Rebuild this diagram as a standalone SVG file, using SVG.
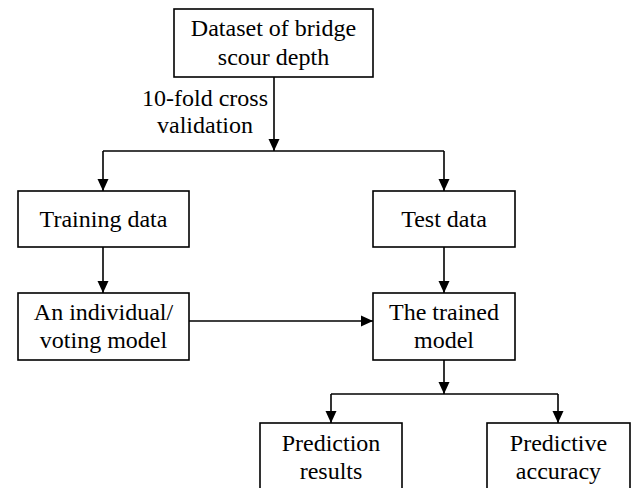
<svg xmlns="http://www.w3.org/2000/svg" width="633" height="488" viewBox="0 0 633 488">
<style>
.box{fill:#fff;stroke:#000;stroke-width:1.6}
.t{font-family:'Liberation Serif',Tinos,'Times New Roman','DejaVu Serif',serif;font-size:24px;fill:#000;text-anchor:middle}
.c{fill:none;stroke:#000;stroke-width:1.6}
</style>
<defs>
<marker id="ah" viewBox="0 0 12 12" refX="12" refY="6" markerWidth="12" markerHeight="12" markerUnits="userSpaceOnUse" orient="auto">
<path d="M0,0.5 L12,6 L0,11.5 z" fill="#000"/>
</marker>
</defs>
<rect width="633" height="488" fill="#fff"/>
<g id="connectors">
<line class="c" x1="274" y1="77" x2="274" y2="151" marker-end="url(#ah)"/>
<polyline class="c" points="103,151 444,151"/>
<line class="c" x1="103" y1="151" x2="103" y2="191" marker-end="url(#ah)"/>
<line class="c" x1="444" y1="151" x2="444" y2="191" marker-end="url(#ah)"/>
<line class="c" x1="103" y1="247" x2="103" y2="293" marker-end="url(#ah)"/>
<line class="c" x1="444" y1="247" x2="444" y2="293" marker-end="url(#ah)"/>
<line class="c" x1="189" y1="321" x2="373" y2="321" marker-end="url(#ah)"/>
<line class="c" x1="444" y1="360" x2="444" y2="394" marker-end="url(#ah)"/>
<polyline class="c" points="331,394 558,394"/>
<line class="c" x1="331" y1="394" x2="331" y2="423" marker-end="url(#ah)"/>
<line class="c" x1="558" y1="394" x2="558" y2="423" marker-end="url(#ah)"/>
<text class="t" x="205" y="106" font-family="Liberation Serif">10-fold cross</text>
<text class="t" x="205" y="133">validation</text>
</g>
<g id="dataset">
<rect class="box" x="174" y="9" width="199" height="68"/>
<text class="t" x="273.5" y="36">Dataset of bridge</text>
<text class="t" x="273.5" y="65">scour depth</text>
</g>
<g id="training">
<rect class="box" x="18" y="191" width="171" height="56"/>
<text class="t" x="103.5" y="227">Training data</text>
</g>
<g id="test">
<rect class="box" x="373" y="191" width="142" height="56"/>
<text class="t" x="444" y="227">Test data</text>
</g>
<g id="individual">
<rect class="box" x="18" y="293" width="171" height="67"/>
<text class="t" x="103.5" y="320">An individual/</text>
<text class="t" x="103.5" y="348">voting model</text>
</g>
<g id="trained">
<rect class="box" x="373" y="293" width="142" height="67"/>
<text class="t" x="444" y="320">The trained</text>
<text class="t" x="444" y="348">model</text>
</g>
<g id="prediction">
<rect class="box" x="260" y="423" width="142" height="80"/>
<text class="t" x="331" y="451">Prediction</text>
<text class="t" x="331" y="479">results</text>
</g>
<g id="accuracy">
<rect class="box" x="487" y="423" width="143" height="80"/>
<text class="t" x="558.5" y="451">Predictive</text>
<text class="t" x="558.5" y="479">accuracy</text>
</g>
</svg>
